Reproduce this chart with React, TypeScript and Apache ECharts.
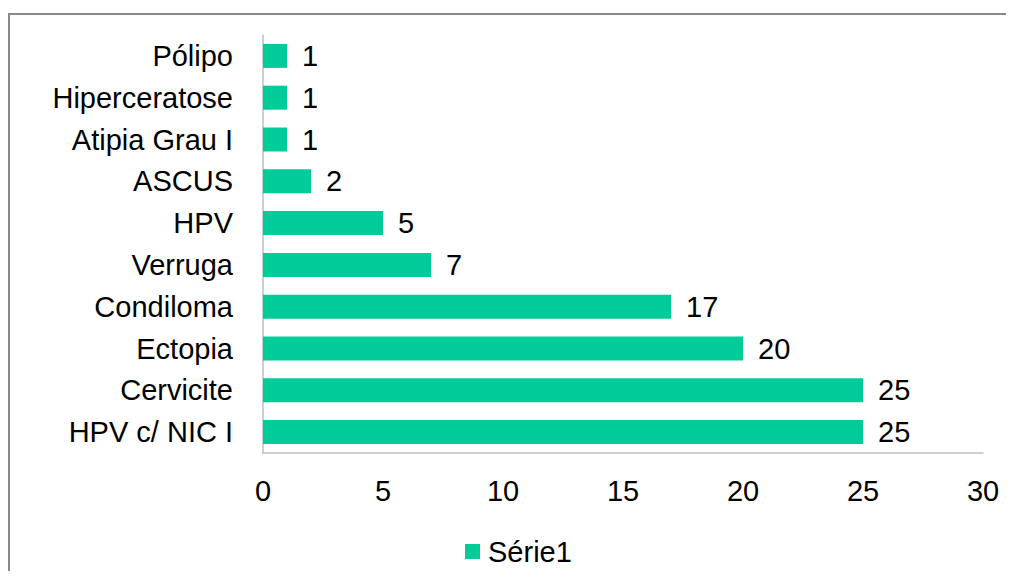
import React, { useEffect, useRef } from "react";
import * as echarts from "echarts";

const categories = [
  "Pólipo",
  "Hiperceratose",
  "Atipia Grau I",
  "ASCUS",
  "HPV",
  "Verruga",
  "Condiloma",
  "Ectopia",
  "Cervicite",
  "HPV c/ NIC I",
];
const serie1 = [1, 1, 1, 2, 5, 7, 17, 20, 25, 25];
const xTicks = { min: 0, max: 30, interval: 5 };

const FONT = "'Liberation Sans', Arial, sans-serif";
const FS = 29;

export default function App() {
  const ref = useRef<HTMLDivElement>(null);
  useEffect(() => {
    if (!ref.current) return;
    const chart = echarts.init(ref.current, undefined, { renderer: "svg" });
    chart.setOption({
      animation: false,
      backgroundColor: "#ffffff",
      textStyle: { fontFamily: FONT },
      graphic: [
        {
          type: "line",
          shape: { x1: 0, y1: 6, x2: 1006, y2: 6 },
          style: { stroke: "#888888", lineWidth: 2 },
          silent: true,
        },
        {
          type: "line",
          shape: { x1: 1, y1: 5, x2: 1, y2: 600 },
          style: { stroke: "#888888", lineWidth: 2 },
          silent: true,
        },
      ],
      grid: { left: 255, top: 27, width: 720, height: 418, containLabel: false },
      legend: {
        data: ["Série1"],
        left: 452,
        top: 524,
        icon: "rect",
        itemWidth: 15,
        itemHeight: 15,
        itemGap: 10,
        textStyle: { fontSize: FS, color: "#000", fontFamily: FONT, padding: [0, 0, 0, 3] },
      },
      xAxis: {
        type: "value",
        min: xTicks.min,
        max: xTicks.max,
        interval: xTicks.interval,
        axisLine: { show: true, lineStyle: { color: "#BFBFBF", width: 1.5 } },
        axisTick: { show: false },
        splitLine: { show: false },
        axisLabel: { fontSize: FS, color: "#000", margin: 23, fontFamily: FONT },
      },
      yAxis: {
        type: "category",
        data: categories,
        inverse: true,
        axisLine: { show: true, lineStyle: { color: "#BFBFBF", width: 1.5 } },
        axisTick: { show: false },
        splitLine: { show: false },
        axisLabel: { fontSize: FS, color: "#000", margin: 30, fontFamily: FONT },
      },
      series: [
        {
          name: "Série1",
          type: "bar",
          data: serie1,
          barWidth: 24,
          itemStyle: { color: "#00CC99" },
          label: {
            show: true,
            position: "right",
            distance: 15,
            fontSize: FS,
            color: "#000",
            fontFamily: FONT,
          },
        },
      ],
    });
    return () => chart.dispose();
  }, []);
  return <div ref={ref} style={{ width: 1006, height: 563 }} />;
}
